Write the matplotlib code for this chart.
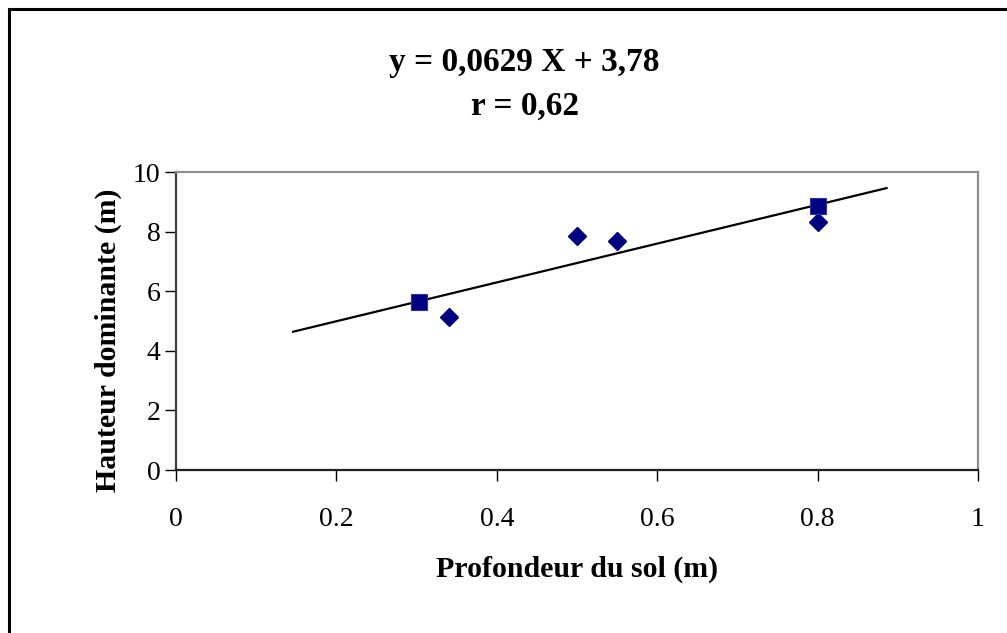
import matplotlib
matplotlib.use("Agg")
import matplotlib.pyplot as plt
from matplotlib.patches import Rectangle

# ==============================
# Data
# ==============================
obs_x = [0.34, 0.50, 0.55, 0.80]      # diamonds
obs_y = [5.12, 7.85, 7.69, 8.31]
sq_x = [0.303, 0.80]                  # squares
sq_y = [5.65, 8.86]
fit_x = [0.146, 0.886]                # trend line end points
fit_y = [4.64, 9.46]

x_ticks = [0, 0.2, 0.4, 0.6, 0.8, 1]
x_labels = ["0", "0.2", "0.4", "0.6", "0.8", "1"]
y_ticks = [0, 2, 4, 6, 8, 10]

title_eq = "y = 0,0629 X + 3,78"
title_r = "r = 0,62"
xlabel = "Profondeur du sol (m)"
ylabel = "Hauteur dominante (m)"

plt.rcParams["font.family"] = ["Liberation Serif", "DejaVu Serif"]

W, H = 1007, 633
fig = plt.figure(figsize=(W / 100, H / 100), dpi=100)
ax = fig.add_axes([176 / W, 1 - 470 / H, 802 / W, 298 / H])

navy = "#000080"
ax.plot(fit_x, fit_y, color="black", lw=1.6, zorder=2)
ax.plot(obs_x, obs_y, "D", color=navy, ms=9, mec=navy, zorder=3, ls="none")
ax.plot(sq_x, sq_y, "s", color=navy, ms=11, mec="#3030a0", mew=0.8, zorder=3, ls="none")

ax.set_xlim(0, 1)
ax.set_ylim(0, 10)
ax.set_xticks(x_ticks)
ax.set_xticklabels(x_labels)
ax.set_yticks(y_ticks)
ax.tick_params(axis="both", direction="out", length=8, width=1, labelsize=20,
               colors="black")
ax.tick_params(axis="x", pad=19)
ax.tick_params(axis="y", pad=3)

ax.spines["left"].set_color("#404040")
ax.spines["bottom"].set_color("#202020")
ax.spines["left"].set_linewidth(1.6)
ax.spines["bottom"].set_linewidth(1.6)
for s in ("top", "right"):
    ax.spines[s].set_color("#909090")
    ax.spines[s].set_linewidth(1.6)

# titles and axis labels
fig.text(524 / W, 1 - 62 / H, title_eq, ha="center", va="center",
         fontsize=24, fontweight="bold")
fig.text(525 / W, 1 - 106 / H, title_r, ha="center", va="center",
         fontsize=24, fontweight="bold")
fig.text(577 / W, 1 - 569 / H, xlabel, ha="center", va="center",
         fontsize=21.5, fontweight="bold")
fig.text(108 / W, 1 - 340 / H, ylabel, ha="center", va="center",
         fontsize=21.5, fontweight="bold", rotation=90)

# outer chart border (only left and top are inside the picture)
fig.patches.append(Rectangle((9 / W, -0.05), 1.2, 1 - 9 / H + 0.05,
                             transform=fig.transFigure, fill=False,
                             ec="black", lw=2.2, zorder=0))

fig.savefig("out.png", dpi=100)
